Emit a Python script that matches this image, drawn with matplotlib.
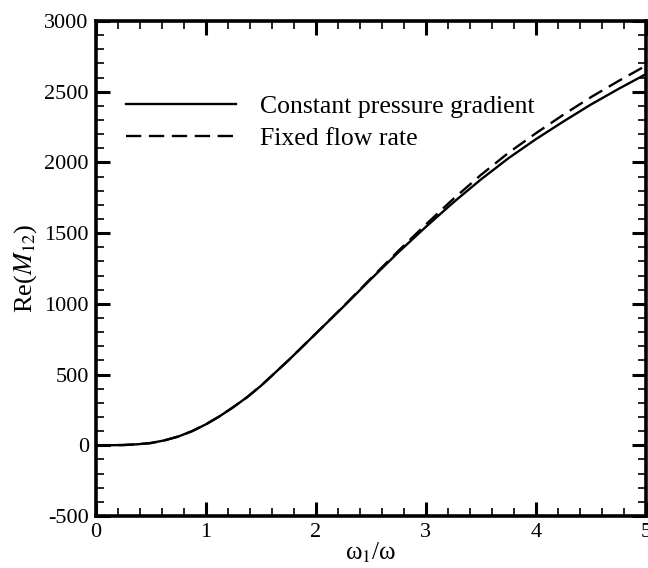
import numpy as np
import matplotlib.pyplot as plt
from matplotlib.ticker import MultipleLocator

plt.rcParams['font.family'] = ['Liberation Serif', 'DejaVu Serif']
plt.rcParams['mathtext.fontset'] = 'stix'
plt.rcParams['axes.unicode_minus'] = False

# omega_1/omega and Re(M12) for the two forcing cases
w_ratio = [0.0, 0.125, 0.25, 0.375, 0.5, 0.625, 0.75, 0.875, 1.0, 1.125, 1.25,
           1.375, 1.5, 1.75, 2.0, 2.25, 2.5, 2.75, 3.0, 3.25, 3.5, 3.75,
           4.0, 4.25, 4.5, 4.75, 5.0]
re_const_grad = [0, 0.5, 2, 7, 16, 35, 62, 100, 148, 205, 270,
                 340, 420, 600, 790, 980, 1175, 1365, 1545, 1718, 1880, 2030,
                 2165, 2290, 2410, 2520, 2625]
re_fixed_flow = [0, 0.5, 2, 7, 16, 35, 62, 100, 148, 205, 270,
                 340, 420, 600, 790, 982, 1180, 1375, 1562, 1743, 1912, 2068,
                 2207, 2338, 2462, 2576, 2685]

fig = plt.figure(figsize=(6.48, 5.68), dpi=100)
ax = fig.add_axes([0.1477, 0.0915, 0.8493, 0.8715])

ax.plot(w_ratio, re_const_grad, color='k', lw=1.7, label='Constant pressure gradient')
ax.plot(w_ratio, re_fixed_flow, color='k', lw=1.7, dashes=(6.5, 3.2), label='Fixed flow rate')

ax.set_xlim(0, 5)
ax.set_ylim(-500, 3000)
ax.xaxis.set_major_locator(MultipleLocator(1))
ax.xaxis.set_minor_locator(MultipleLocator(0.2))
ax.yaxis.set_major_locator(MultipleLocator(500))
ax.yaxis.set_minor_locator(MultipleLocator(100))
ax.tick_params(which='both', direction='in', top=True, right=True, labelsize=16)
ax.tick_params(which='major', length=10, width=2.2, pad=5)
ax.tick_params(which='minor', length=5.5, width=1.2)
for sp in ax.spines.values():
    sp.set_linewidth(2.6)

ax.set_xlabel('ω$_1$/ω', fontsize=18, labelpad=-1)
ax.set_ylabel('Re($M_{12}$)', fontsize=19, labelpad=4)

ax.legend(loc='upper left', bbox_to_anchor=(0.055, 0.851), frameon=False,
          fontsize=18.5, handlelength=4.3, handletextpad=0.9, labelspacing=0.35,
          borderaxespad=0, borderpad=0)

fig.savefig('out.png', dpi=100)
